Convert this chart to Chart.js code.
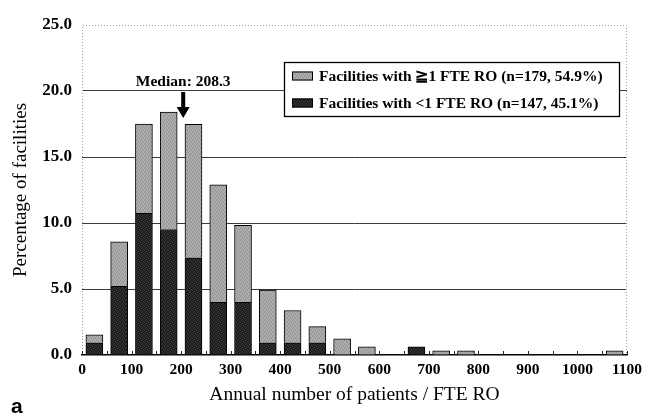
<!DOCTYPE html>
<html>
<head>
<meta charset="utf-8">
<script src="https://cdn.jsdelivr.net/npm/chart.js@4.4.1/dist/chart.umd.min.js"></script>
<style>
  html, body { margin: 0; padding: 0; background: #fff; }
  #wrap { position: relative; width: 649px; height: 416px; }
</style>
</head>
<body>
<div id="wrap"><canvas id="c" width="649" height="416"></canvas></div>
<script>
// Annual patients per FTE radiation oncologist, bins of 50 (bin midpoints)
const binMid = [25, 75, 125, 175, 225, 275, 325, 375, 425, 475, 525,
                575, 625, 675, 725, 775, 825, 875, 925, 975, 1025, 1075];

// Percentage of all facilities (n=326) in each bin
const pctBelowOne = [0.92, 5.21, 10.74, 9.51, 7.36, 3.99, 3.99, 0.92, 0.92, 0.92, 0,
                     0, 0, 0.61, 0, 0, 0, 0, 0, 0, 0, 0];
const pctAtLeastOne = [0.61, 3.37, 6.75, 8.90, 10.12, 8.90, 5.83, 3.99, 2.45, 1.23, 1.23,
                       0.61, 0, 0, 0.31, 0.31, 0, 0, 0, 0, 0, 0.31];

const seriesNames = ['Facilities with \u22671 FTE RO (n=179, 54.9%)',
                     'Facilities with <1 FTE RO (n=147, 45.1%)'];
const yTicks = [0, 5, 10, 15, 20, 25];
const xTicks = [0, 100, 200, 300, 400, 500, 600, 700, 800, 900, 1000, 1100];
const medianValue = 208.3;
const xTitle = 'Annual number of patients / FTE RO';
const yTitle = 'Percentage of facilities';
const panelLetter = 'a';

const SERIF = "'Liberation Serif', 'Times New Roman', serif";

const canvas = document.getElementById('c');
const ctx = canvas.getContext('2d');

// speckled fill, like a halftone print
function grain(base, speck, spots) {
  const t = document.createElement('canvas');
  t.width = 4; t.height = 4;
  const g = t.getContext('2d');
  g.fillStyle = base; g.fillRect(0, 0, 4, 4);
  g.fillStyle = speck;
  spots.forEach(([x, y]) => g.fillRect(x, y, 1, 1));
  return ctx.createPattern(t, 'repeat');
}
const lightFill = grain('#acacac', '#8e8e8e', [[0, 0], [2, 1], [1, 3], [3, 2]]);
const darkFill = grain('#1c1c1c', '#454545', [[1, 0], [3, 1], [0, 2], [2, 3]]);

const decor = {
  id: 'decor',
  beforeDatasetsDraw(chart) {
    const { ctx, chartArea: a } = chart;
    ctx.save();
    // dotted frame: top edge and both sides
    ctx.strokeStyle = '#9a9a9a';
    ctx.lineWidth = 1;
    ctx.setLineDash([1, 2]);
    ctx.beginPath();
    ctx.moveTo(a.left + 0.5, a.bottom); ctx.lineTo(a.left + 0.5, a.top + 0.5);
    ctx.lineTo(a.right - 0.5, a.top + 0.5); ctx.lineTo(a.right - 0.5, a.bottom);
    ctx.stroke();
    ctx.restore();
  },
  afterDatasetsDraw(chart) {
    const { ctx, chartArea: a, scales: { x } } = chart;
    ctx.save();
    // small inward ticks at each bin edge
    ctx.strokeStyle = '#222';
    ctx.lineWidth = 1;
    for (let v = 0; v <= x.max; v += 50) {
      const px = Math.round(x.getPixelForValue(v)) + 0.5;
      ctx.beginPath(); ctx.moveTo(px, a.bottom); ctx.lineTo(px, a.bottom - 4); ctx.stroke();
    }
    ctx.restore();
  },
  afterDraw(chart) {
    const { ctx, chartArea: a, scales: { x } } = chart;
    ctx.save();

    // median marker
    const mx = x.getPixelForValue(medianValue) - 2;
    ctx.fillStyle = '#000';
    ctx.font = 'bold 15.5px ' + SERIF;
    ctx.textAlign = 'center';
    ctx.textBaseline = 'alphabetic';
    ctx.fillText('Median: ' + medianValue.toFixed(1), mx, a.top + 61);
    const top = a.top + 67, tip = a.top + 93;
    ctx.beginPath();
    ctx.moveTo(mx - 2, top); ctx.lineTo(mx + 2, top);
    ctx.lineTo(mx + 2, tip - 11); ctx.lineTo(mx + 6.5, tip - 11);
    ctx.lineTo(mx, tip); ctx.lineTo(mx - 6.5, tip - 11);
    ctx.lineTo(mx - 2, tip - 11); ctx.closePath();
    ctx.fill();

    // legend box
    const bw = 335, bh = 54;
    const bx = a.right - 8 - bw, by = a.top + 37;
    ctx.fillStyle = '#fff';
    ctx.fillRect(bx, by, bw, bh);
    ctx.strokeStyle = '#000';
    ctx.lineWidth = 1.3;
    ctx.strokeRect(bx + 0.5, by + 0.5, bw, bh);
    const items = [
      { text: seriesNames[0], fill: lightFill, y: by + 14 },
      { text: seriesNames[1], fill: darkFill, y: by + 41 }
    ];
    ctx.font = 'bold 15.5px ' + SERIF;
    ctx.textAlign = 'left';
    ctx.textBaseline = 'middle';
    items.forEach(it => {
      ctx.fillStyle = it.fill;
      ctx.fillRect(bx + 8, it.y - 4.5, 21, 9);
      ctx.strokeStyle = '#000';
      ctx.lineWidth = 1;
      ctx.strokeRect(bx + 8.5, it.y - 4, 20, 8);
      ctx.fillStyle = '#000';
      ctx.fillText(it.text, bx + 35, it.y + 1);
    });

    // panel letter
    ctx.font = 'bold 21px Arial, "Liberation Sans", sans-serif';
    ctx.textAlign = 'left';
    ctx.textBaseline = 'alphabetic';
    ctx.fillText(panelLetter, 11, 413);
    ctx.restore();
  }
};

new Chart(canvas, {
  type: 'bar',
  data: {
    labels: binMid,
    datasets: [
      {
        label: seriesNames[1],
        data: pctBelowOne,
        backgroundColor: darkFill,
        borderColor: '#000',
        borderWidth: 1,
        barThickness: 17
      },
      {
        label: seriesNames[0],
        data: pctAtLeastOne,
        backgroundColor: lightFill,
        borderColor: '#000',
        borderWidth: 1,
        barThickness: 17
      }
    ]
  },
  options: {
    responsive: false,
    animation: false,
    layout: { padding: { top: 25, right: 22, left: 0, bottom: 0 } },
    plugins: { legend: { display: false }, tooltip: { enabled: false } },
    scales: {
      x: {
        type: 'linear',
        stacked: true,
        offset: false,
        min: 0,
        max: 1100,
        afterFit(s) { s.height = 61; },
        afterBuildTicks(s) { s.ticks = xTicks.map(v => ({ value: v })); },
        ticks: {
          autoSkip: false,
          maxRotation: 0,
          padding: 6,
          color: '#000',
          font: { family: SERIF, size: 15.5, weight: 'bold' },
          callback: v => String(v)
        },
        grid: { display: false, drawTicks: false },
        border: { display: true, color: '#000', width: 1.5 },
        title: {
          display: true,
          text: xTitle,
          color: '#000',
          font: { family: SERIF, size: 19.5 },
          padding: { top: 0, bottom: 9 }
        }
      },
      y: {
        stacked: true,
        min: 0,
        max: 25,
        afterFit(s) { s.width = 82; },
        afterBuildTicks(s) { s.ticks = yTicks.map(v => ({ value: v })); },
        ticks: {
          padding: 10,
          color: '#000',
          font: { family: SERIF, size: 17, weight: 'bold' },
          callback: v => v.toFixed(1)
        },
        grid: {
          drawTicks: false,
          lineWidth: 1,
          color: c => (c.tick && (c.tick.value === 0 || c.tick.value === 25)) ? 'rgba(0,0,0,0)' : '#3a3a3a'
        },
        border: { display: false },
        title: {
          display: true,
          text: yTitle,
          color: '#000',
          font: { family: SERIF, size: 19 },
          padding: { top: 10, bottom: 0 }
        }
      }
    }
  },
  plugins: [decor]
});
</script>
</body>
</html>
